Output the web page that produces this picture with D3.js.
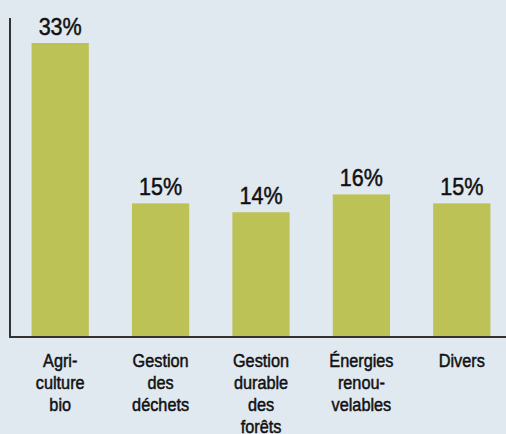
<!DOCTYPE html>
<html>
<head>
<meta charset="utf-8">
<script src="https://cdn.jsdelivr.net/npm/d3@7"></script>
<style>
  body { margin: 0; background: #e0e8f0; }
  svg { display: block; }
  text { font-family: "Liberation Sans", Arial, sans-serif; fill: #111; stroke: #111; stroke-width: 0.5px; }
</style>
</head>
<body>
<script>
const categories = [
    ["Agri-", "culture", "bio"],
    ["Gestion", "des", "déchets"],
    ["Gestion", "durable", "des", "forêts"],
    ["Énergies", "renou-", "velables"],
    ["Divers"]
];
const shares = [33, 15, 14, 16, 15];

const width = 506, height = 434;
const axisX = 10, baseY = 337;
const squeeze = 0.88; // condensed look

const svg = d3.select("body").append("svg")
    .attr("width", width).attr("height", height);

svg.append("rect").attr("width", width).attr("height", height).attr("fill", "#e0e8f0");

let x = d3.scaleBand()
    .domain(d3.range(categories.length))
    .range([axisX, 512])
    .paddingInner(0.43)
    .paddingOuter(0.215);

// 33% sits at y=43
let y = d3.scaleLinear().domain([0, 33]).range([baseY, 43]);

svg.append("g")
    .selectAll("rect")
    .data(shares)
    .enter()
    .append("rect")
    .attr("x", function (d, i) { return x(i); })
    .attr("y", function (d) { return y(d); })
    .attr("width", x.bandwidth())
    .attr("height", function (d) { return baseY - y(d); })
    .attr("fill", "#bcc255");

// value labels
svg.append("g")
    .selectAll("text")
    .data(shares)
    .enter()
    .append("text")
    .attr("transform", function (d, i) {
        return "translate(" + (x(i) + x.bandwidth() / 2) + "," + (y(d) - 8) + ") scale(" + squeeze + ",1)";
    })
    .attr("text-anchor", "middle")
    .style("font-size", "24.5px")
    .text(function (d) { return d + "%"; });

// axes lines
svg.append("path")
    .attr("d", "M" + axisX + ",18V" + baseY + "H" + width)
    .attr("fill", "none")
    .attr("stroke", "#333")
    .attr("stroke-width", 2);

// category labels
const labels = svg.append("g")
    .selectAll("text")
    .data(categories)
    .enter()
    .append("text")
    .attr("text-anchor", "middle")
    .style("font-size", "18.5px")
    .attr("transform", function (d, i) {
        return "translate(" + (x(i) + x.bandwidth() / 2) + ",367) scale(" + squeeze + ",1)";
    });

labels.selectAll("tspan")
    .data(function (d) { return d; })
    .enter()
    .append("tspan")
    .attr("x", 0)
    .attr("y", function (d, i) { return i * 22; })
    .text(function (d) { return d; });
</script>
</body>
</html>
